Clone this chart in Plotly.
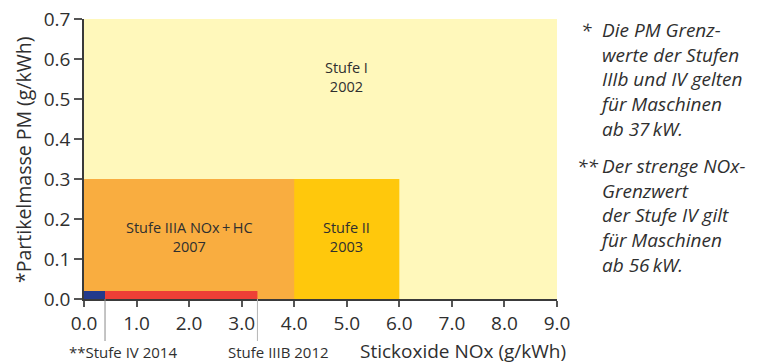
import plotly.graph_objects as go

# ---- data ----
stages = ["Stufe I", "Stufe II", "Stufe IIIA NOx+HC", "Stufe IIIB", "Stufe IV"]
years = [2002, 2003, 2007, 2012, 2014]
nox_limit = [9.0, 6.0, 4.0, 3.3, 0.4]      # g/kWh
pm_limit = [0.7, 0.3, 0.3, 0.02, 0.02]      # g/kWh
colors = ["#FFF8BB", "#FFC80C", "#F9AD40", "#EE3F36", "#233A8C"]

x_ticks = [0, 1, 2, 3, 4, 5, 6, 7, 8, 9]
y_ticks = [0.0, 0.1, 0.2, 0.3, 0.4, 0.5, 0.6, 0.7]

FONT = "Open Sans"
TXT = "#2f2f2f"

# plot area in window pixels: left 84, right 557, top 19, bottom 299
PW, PH = 473.0, 280.0
def px(xp):  # window x pixel -> paper x
    return (xp - 84) / PW
def py(yp):  # window y pixel -> paper y
    return (299 - yp) / PH

fig = go.Figure()
for name, nx, pm, col in zip(stages, nox_limit, pm_limit, colors):
    fig.add_trace(go.Scatter(
        x=[0, nx, nx, 0, 0], y=[0, 0, pm, pm, 0],
        mode="lines", fill="toself", fillcolor=col,
        line=dict(width=0), hoverinfo="skip", showlegend=False, name=name))

lab_font = dict(family=FONT, size=15, color=TXT)
in_font = dict(family=FONT, size=14.5, color=TXT)
# inner labels
fig.add_annotation(x=5.0, y=0.555, xref="x", yref="y", yanchor="middle",
                   text=f"{stages[0]}<br>{years[0]}", showarrow=False, font=in_font)
fig.add_annotation(x=(nox_limit[2] + nox_limit[1]) / 2, y=0.155, xref="x", yref="y",
                   yanchor="middle", text=f"{stages[1]}<br>{years[1]}",
                   showarrow=False, font=in_font)
fig.add_annotation(x=nox_limit[2] / 2, y=0.155, xref="x", yref="y", yanchor="middle",
                   text=f"Stufe IIIA NOx\u2009+\u2009HC<br>{years[2]}", showarrow=False,
                   font=in_font)

# reference lines below the axis
for nx, col in [(nox_limit[4], "#8a8a8a"), (nox_limit[3], "#b5b5b5")]:
    fig.add_shape(type="line", xref="x", yref="paper", x0=nx, x1=nx, y0=0, y1=py(341),
                  line=dict(color=col, width=1))

fig.add_annotation(x=px(123), y=py(352), xref="paper", yref="paper",
                   xanchor="center", yanchor="middle",
                   text=f"**{stages[4]} {years[4]}", showarrow=False, font=lab_font)
fig.add_annotation(x=px(278), y=py(352), xref="paper", yref="paper",
                   xanchor="center", yanchor="middle",
                   text=f"{stages[3]} {years[3]}", showarrow=False, font=lab_font)

# axis titles
fig.add_annotation(x=px(463), y=py(351), xref="paper", yref="paper",
                   xanchor="center", yanchor="middle",
                   text="Stickoxide NOx (g/kWh)", showarrow=False,
                   font=dict(family=FONT, size=19, color=TXT))
fig.add_annotation(x=px(23), y=py(160), xref="paper", yref="paper", textangle=-90,
                   xanchor="center", yanchor="middle",
                   text="*Partikelmasse PM (g/kWh)", showarrow=False,
                   font=dict(family=FONT, size=19.5, color=TXT))

# notes
note_font = dict(family=FONT, size=19, color=TXT)
fig.add_annotation(x=px(579), y=py(30), xref="paper", yref="paper",
                   xanchor="left", yanchor="middle",
                   text="<i>*</i>", showarrow=False, font=note_font)
fig.add_annotation(x=px(597), y=py(79), xref="paper", yref="paper",
                   xanchor="left", yanchor="middle", align="left",
                   text="<i>Die PM Grenz-<br>werte der Stufen<br>IIIb und IV gelten<br>für Maschinen<br>ab 37\u2009kW.</i>",
                   showarrow=False, font=note_font)
fig.add_annotation(x=px(575), y=py(166), xref="paper", yref="paper",
                   xanchor="left", yanchor="middle",
                   text="<i>**</i>", showarrow=False, font=note_font)
fig.add_annotation(x=px(597), y=py(216), xref="paper", yref="paper",
                   xanchor="left", yanchor="middle", align="left",
                   text="<i>Der strenge NOx-<br>Grenzwert<br>der Stufe IV gilt<br>für Maschinen<br>ab 56\u2009kW.</i>",
                   showarrow=False, font=note_font)

# page body has an 8 px margin; compensate so the plot area sits at 84..557 x 19..299
fig.update_layout(
    width=758, height=362,
    margin=dict(l=76, r=209, t=11, b=71, autoexpand=False),
    paper_bgcolor="white", plot_bgcolor="white",
    font=dict(family=FONT, color=TXT),
    xaxis=dict(range=[0, 9], tickvals=x_ticks, tickformat=".1f",
               showline=True, linecolor="#3a3a3a", linewidth=1.5,
               ticks="outside", ticklen=6, tickcolor="#555", tickwidth=1.5,
               showgrid=False, zeroline=False, fixedrange=True, automargin=False,
               ticklabeloverflow="allow",
               tickfont=dict(family=FONT, size=19, color=TXT)),
    yaxis=dict(range=[0, 0.7], tickvals=y_ticks, tickformat=".1f",
               showline=True, linecolor="#3a3a3a", linewidth=1.5,
               ticks="outside", ticklen=8, tickcolor="#555", tickwidth=1.5,
               showgrid=False, zeroline=False, fixedrange=True, automargin=False,
               ticklabeloverflow="allow",
               tickfont=dict(family=FONT, size=19, color=TXT)),
)

fig.write_html("out.html")
